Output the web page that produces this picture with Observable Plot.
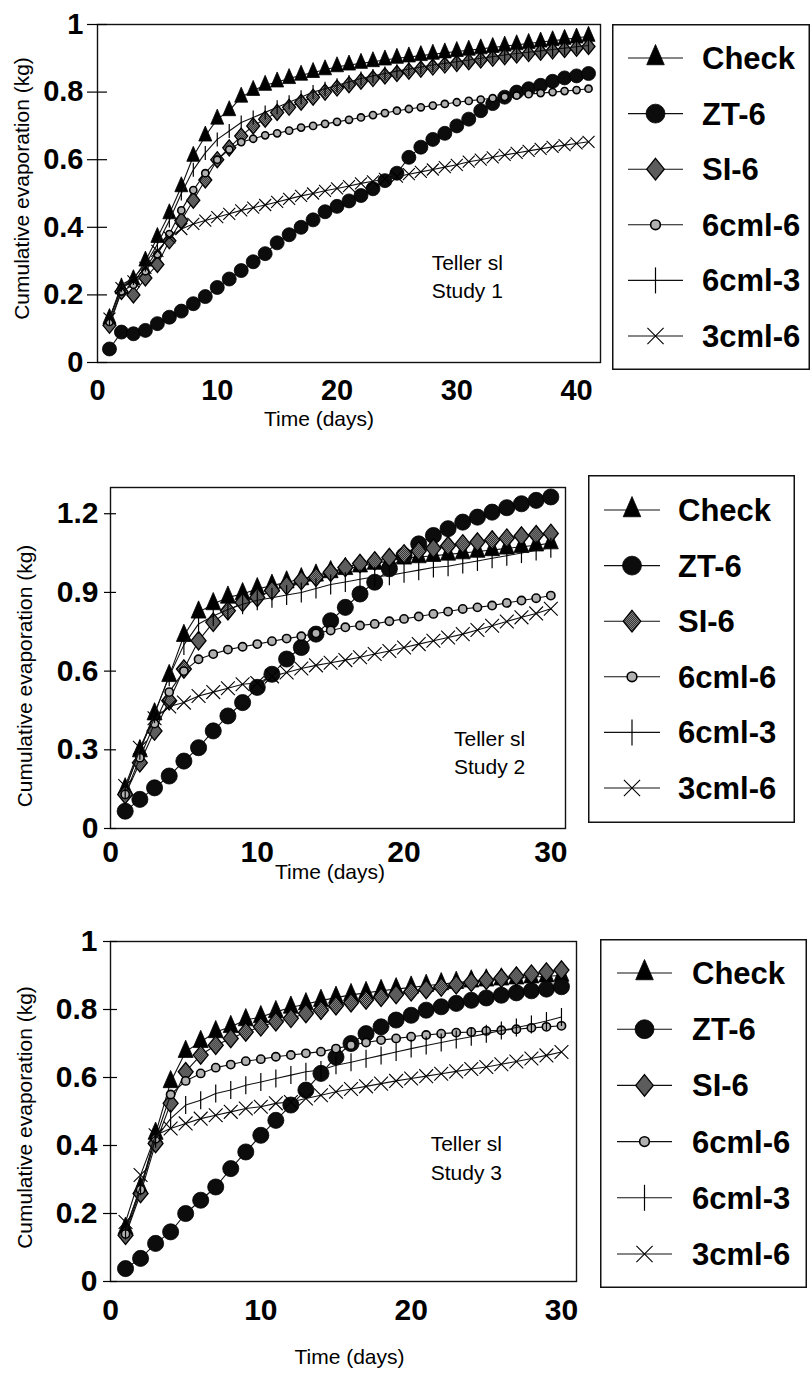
<!DOCTYPE html>
<html><head><meta charset="utf-8">
<script src="https://cdn.jsdelivr.net/npm/d3@7"></script>
<script src="https://cdn.jsdelivr.net/npm/@observablehq/plot@0.6"></script>
<style>
body{margin:0;background:#fff;}
#page{position:relative;width:810px;height:1380px;overflow:hidden;background:#fff;font-family:"Liberation Sans",Arial,sans-serif;}
svg.lg{position:absolute;overflow:visible;}
</style></head>
<body>
<svg width="0" height="0" style="position:absolute">
  <defs>
    <pattern id="hatch" width="2" height="2" patternUnits="userSpaceOnUse">
      <rect width="2" height="2" fill="#9a9a9a"/>
      <rect width="1" height="1" fill="#1e1e1e"/>
      <rect x="1" y="1" width="1" height="1" fill="#1e1e1e"/>
    </pattern>
  </defs>
</svg>
<div id="page"></div>
<script>
// ---------- data ----------
const seriesNames = ["Check", "ZT-6", "SI-6", "6cml-6", "6cml-3", "3cml-6"];

const days1 = [1,2,3,4,5,6,7,8,9,10,11,12,13,14,15,16,17,18,19,20,21,22,23,24,25,26,27,28,29,30,31,32,33,34,35,36,37,38,39,40,41];
const days2 = [1,2,3,4,5,6,7,8,9,10,11,12,13,14,15,16,17,18,19,20,21,22,23,24,25,26,27,28,29,30];
const days3 = [1,2,3,4,5,6,7,8,9,10,11,12,13,14,15,16,17,18,19,20,21,22,23,24,25,26,27,28,29,30];

// Study 1
const s1Check = [0.13,0.22,0.245,0.30,0.37,0.44,0.52,0.61,0.67,0.72,0.745,0.785,0.805,0.82,0.83,0.84,0.85,0.858,0.866,0.875,0.88,0.885,0.89,0.895,0.90,0.904,0.908,0.912,0.916,0.92,0.924,0.928,0.932,0.936,0.94,0.944,0.948,0.952,0.956,0.96,0.965];
const s1ZT6 = [0.04,0.09,0.085,0.095,0.115,0.134,0.152,0.174,0.195,0.222,0.247,0.272,0.298,0.322,0.354,0.378,0.40,0.422,0.446,0.462,0.478,0.494,0.514,0.538,0.56,0.607,0.637,0.66,0.678,0.70,0.72,0.745,0.766,0.785,0.80,0.81,0.82,0.832,0.842,0.848,0.855];
const s1SI6 = [0.11,0.21,0.20,0.25,0.29,0.36,0.42,0.48,0.54,0.60,0.635,0.67,0.70,0.72,0.74,0.755,0.77,0.785,0.80,0.812,0.822,0.832,0.84,0.848,0.855,0.862,0.868,0.874,0.88,0.885,0.89,0.895,0.90,0.905,0.91,0.914,0.918,0.922,0.926,0.93,0.935];
const s1C66 = [0.12,0.21,0.23,0.27,0.32,0.38,0.45,0.51,0.56,0.60,0.63,0.652,0.662,0.672,0.678,0.686,0.695,0.70,0.706,0.712,0.718,0.725,0.732,0.738,0.745,0.75,0.755,0.76,0.765,0.77,0.774,0.778,0.782,0.786,0.79,0.794,0.797,0.80,0.803,0.806,0.81];
const s1C63 = [0.13,0.23,0.25,0.29,0.35,0.42,0.50,0.57,0.62,0.66,0.685,0.71,0.725,0.74,0.755,0.77,0.785,0.80,0.81,0.82,0.83,0.84,0.848,0.855,0.862,0.868,0.874,0.88,0.885,0.89,0.895,0.90,0.905,0.91,0.914,0.918,0.922,0.926,0.93,0.934,0.938];
const s1C36 = [0.13,0.22,0.24,0.28,0.33,0.37,0.395,0.41,0.42,0.43,0.44,0.45,0.458,0.466,0.475,0.484,0.493,0.50,0.508,0.515,0.522,0.53,0.536,0.543,0.55,0.557,0.564,0.571,0.578,0.585,0.594,0.60,0.607,0.614,0.62,0.626,0.632,0.638,0.643,0.648,0.653];

// Study 2
const s2Check = [0.15,0.295,0.436,0.582,0.735,0.824,0.856,0.881,0.894,0.913,0.926,0.939,0.951,0.965,0.978,0.99,1.0,1.01,1.02,1.03,1.035,1.04,1.045,1.05,1.056,1.062,1.068,1.074,1.08,1.088];
const s2ZT6 = [0.066,0.111,0.155,0.20,0.257,0.308,0.372,0.429,0.48,0.538,0.588,0.646,0.69,0.741,0.792,0.843,0.894,0.939,0.99,1.04,1.085,1.117,1.143,1.168,1.187,1.206,1.223,1.238,1.251,1.264];
const s2SI6 = [0.13,0.251,0.372,0.487,0.608,0.716,0.786,0.83,0.862,0.881,0.907,0.926,0.945,0.958,0.977,0.995,1.01,1.02,1.033,1.047,1.058,1.068,1.078,1.085,1.092,1.1,1.107,1.115,1.12,1.125];
const s2C66 = [0.13,0.27,0.40,0.52,0.60,0.645,0.665,0.682,0.693,0.703,0.714,0.724,0.733,0.744,0.755,0.767,0.774,0.78,0.79,0.799,0.808,0.818,0.827,0.837,0.843,0.85,0.86,0.869,0.878,0.888];
const s2C63 = [0.15,0.30,0.44,0.58,0.70,0.78,0.81,0.835,0.855,0.87,0.88,0.89,0.90,0.915,0.93,0.94,0.95,0.96,0.965,0.975,0.985,0.995,1.0,1.01,1.02,1.03,1.04,1.05,1.06,1.07];
const s2C36 = [0.162,0.308,0.42,0.465,0.48,0.505,0.52,0.535,0.55,0.555,0.58,0.595,0.61,0.622,0.632,0.642,0.653,0.665,0.677,0.69,0.703,0.716,0.728,0.741,0.757,0.773,0.789,0.805,0.82,0.838];

// Study 3
const s3Check = [0.156,0.274,0.435,0.587,0.676,0.705,0.734,0.749,0.769,0.778,0.793,0.806,0.816,0.826,0.835,0.843,0.849,0.855,0.86,0.865,0.87,0.875,0.879,0.883,0.886,0.889,0.892,0.895,0.898,0.90];
const s3ZT6 = [0.038,0.068,0.112,0.146,0.20,0.239,0.278,0.332,0.381,0.43,0.474,0.519,0.563,0.612,0.66,0.70,0.729,0.749,0.769,0.783,0.798,0.808,0.818,0.827,0.834,0.842,0.849,0.855,0.86,0.867];
const s3SI6 = [0.136,0.259,0.406,0.524,0.617,0.666,0.695,0.715,0.734,0.749,0.764,0.774,0.788,0.798,0.811,0.82,0.828,0.836,0.844,0.852,0.859,0.866,0.873,0.88,0.886,0.892,0.898,0.904,0.91,0.916];
const s3C66 = [0.14,0.27,0.42,0.55,0.59,0.612,0.629,0.638,0.648,0.654,0.661,0.666,0.671,0.676,0.685,0.695,0.703,0.71,0.715,0.72,0.725,0.729,0.732,0.734,0.737,0.739,0.742,0.746,0.749,0.752];
const s3C63 = [0.15,0.28,0.42,0.479,0.519,0.533,0.553,0.563,0.577,0.587,0.597,0.607,0.617,0.622,0.636,0.645,0.655,0.665,0.675,0.685,0.694,0.703,0.712,0.72,0.729,0.738,0.747,0.756,0.766,0.778];
const s3C36 = [0.175,0.313,0.43,0.45,0.465,0.479,0.489,0.499,0.509,0.514,0.524,0.528,0.538,0.548,0.558,0.566,0.574,0.582,0.59,0.597,0.604,0.611,0.618,0.625,0.631,0.639,0.647,0.656,0.665,0.675];

// axis ticks
const xTicks1 = [0,10,20,30,40];
const xTicks2 = [0,10,20,30];
const xTicks3 = [0,10,20,30];
const yTicks1 = [0,0.2,0.4,0.6,0.8,1];
const yTicks2 = [0,0.3,0.6,0.9,1.2];
const yTicks3 = [0,0.2,0.4,0.6,0.8,1];

// annotations
const note1 = [{day: 27.9, v: 0.26, text: "Teller sl\nStudy 1"}];
const note2 = [{day: 23.4, v: 0.295, text: "Teller sl\nStudy 2"}];
const note3 = [{day: 21.3, v: 0.368, text: "Teller sl\nStudy 3"}];

// ---------- symbols ----------
const symTri = (w, h) => ({draw(c){ c.moveTo(0, -2*h/3); c.lineTo(w, h/3); c.lineTo(-w, h/3); c.closePath(); }});
const symCircle = r => ({draw(c){ c.moveTo(r, 0); c.arc(0, 0, r, 0, 2*Math.PI); c.closePath(); }});
const symDiamond = (w, h) => ({draw(c){ c.moveTo(0, -h); c.lineTo(w, 0); c.lineTo(0, h); c.lineTo(-w, 0); c.closePath(); }});
const symTick = h => ({draw(c){ c.moveTo(0, -h); c.lineTo(0, h); }});
const symX = a => ({draw(c){ c.moveTo(-a, -a); c.lineTo(a, a); c.moveTo(-a, a); c.lineTo(a, -a); }});

function symbolSet(k, tick) {
  return [
    {sym: symTri(6.5*k, 15*k), fill: "#000", stroke: "#000", sw: 0.8},
    {sym: symCircle(7*k), fill: "#0c0c0c", stroke: "#000", sw: 0.8},
    {sym: symDiamond(6.5*k, 8*k), fill: "url(#hatch)", stroke: "#000", sw: 1.3},
    {sym: symCircle(3.6*k), fill: "#b0b0b0", stroke: "#000", sw: 1.6},
    {sym: symTick(tick), fill: "none", stroke: "#000", sw: 1.2},
    {sym: symX(6*k), fill: "none", stroke: "#000", sw: 1.1}
  ];
}

const FONT = "Liberation Sans, Arial, Helvetica, sans-serif";
const page = document.getElementById("page");

function makePanel(p) {
  const syms = symbolSet(p.k, p.tick);
  const marks = [];
  p.values.forEach((vals, i) => {
    const data = p.days.map((d, j) => ({day: d, v: vals[j]}));
    marks.push(Plot.line(data, {x: "day", y: "v", stroke: "#111", strokeWidth: 1.1}));
    const s = syms[i];
    marks.push(Plot.dot(data, {x: "day", y: "v", symbol: s.sym, r: 5, fill: s.fill, stroke: s.stroke, strokeWidth: s.sw}));
  });
  marks.push(Plot.frame({stroke: "#111", strokeWidth: 1.4}));
  marks.push(Plot.axisY({ticks: p.yTicks, tickSize: 0, tickPadding: p.ytp, tickFormat: d3.format("~g"),
    fontSize: p.tickFont, fontWeight: "bold", label: null}));
  marks.push(Plot.axisY({ticks: p.yTicks, tickSize: 2*p.tl, dx: p.tl, tickFormat: () => "", label: null, strokeWidth: 1.2}));
  marks.push(Plot.axisX({ticks: p.xTicks, tickSize: 0, tickPadding: p.xtp, tickFormat: d3.format("d"),
    fontSize: p.tickFont, fontWeight: "bold", label: null}));
  marks.push(Plot.text(["Time (days)"], {frameAnchor: "bottom", textAnchor: "middle", dy: p.xlabDy, dx: p.xlabDx,
    fontSize: 21, text: d => d, fill: "#000"}));
  marks.push(Plot.text(["Cumulative evaporation (kg)"], {frameAnchor: "left", textAnchor: "middle", rotate: -90,
    dx: p.ylabDx, dy: p.ylabDy, fontSize: 21, text: d => d, fill: "#000"}));
  marks.push(Plot.text(p.note, {x: "day", y: "v", text: "text", textAnchor: "start", lineAnchor: "middle",
    lineHeight: 1.35, fontSize: 21, fill: "#000"}));

  const fig = Plot.plot({
    width: 810, height: p.height,
    marginLeft: p.ml, marginRight: p.mr, marginTop: p.mt, marginBottom: p.mb,
    x: {domain: p.xDomain, label: null},
    y: {domain: p.yDomain, label: null},
    style: {fontFamily: FONT, background: "transparent", overflow: "visible", color: "#000"},
    marks
  });
  fig.style.position = "absolute";
  fig.style.left = "0px";
  fig.style.top = p.top + "px";
  page.append(fig);
}

function makeLegend(L, k) {
  const syms = symbolSet(k, 13);
  const svg = d3.select(page).append("svg").attr("class", "lg")
    .attr("width", L.w).attr("height", L.h)
    .style("left", L.left + "px").style("top", L.top + "px");
  svg.append("rect").attr("x", 0.75).attr("y", 0.75).attr("width", L.w - 1.5).attr("height", L.h - 1.5)
    .attr("fill", "#fff").attr("stroke", "#111").attr("stroke-width", 1.5);
  const step = (L.h - 2*L.pad) / (seriesNames.length - 1);
  seriesNames.forEach((name, i) => {
    const cy = L.pad + i*step;
    svg.append("line").attr("x1", L.lx1).attr("x2", L.lx2).attr("y1", cy).attr("y2", cy)
      .attr("stroke", "#111").attr("stroke-width", 1.1);
    const s = syms[i];
    svg.append("path").attr("d", d3.symbol(s.sym)())
      .attr("transform", `translate(${(L.lx1 + L.lx2)/2},${cy})`)
      .attr("fill", s.fill).attr("stroke", s.stroke).attr("stroke-width", s.sw);
    svg.append("text").attr("x", L.tx).attr("y", cy + 11).text(name)
      .attr("font-family", FONT).attr("font-weight", "bold").attr("font-size", 31).attr("fill", "#000");
  });
}

// ---------- panels ----------
makePanel({top: 0, height: 440, ml: 97, mr: 210, mt: 24, mb: 78, k: 1, tick: 7,
  days: days1, values: [s1Check, s1ZT6, s1SI6, s1C66, s1C63, s1C36],
  xDomain: [0, 42], yDomain: [0, 1], xTicks: xTicks1, yTicks: yTicks1,
  tickFont: 29, ytp: 14, xtp: 17, tl: 10, xlabDy: 63, xlabDx: -30, ylabDx: -75, ylabDy: -5, note: note1});

makePanel({top: 460, height: 440, ml: 110, mr: 245, mt: 27, mb: 72, k: 1.15, tick: 10,
  days: days2, values: [s2Check, s2ZT6, s2SI6, s2C66, s2C63, s2C36],
  xDomain: [0, 31], yDomain: [0, 1.3], xTicks: xTicks2, yTicks: yTicks2,
  tickFont: 30, ytp: 12, xtp: 12, tl: 6, xlabDy: 50, xlabDx: -8, ylabDx: -85, ylabDy: 18, note: note2});

makePanel({top: 910, height: 470, ml: 110, mr: 234, mt: 31, mb: 99, k: 1.15, tick: 9,
  days: days3, values: [s3Check, s3ZT6, s3SI6, s3C66, s3C63, s3C36],
  xDomain: [0, 31], yDomain: [0, 1], xTicks: xTicks3, yTicks: yTicks3,
  tickFont: 30, ytp: 13, xtp: 17, tl: 7, xlabDy: 82, xlabDx: 6, ylabDx: -85, ylabDy: 6, note: note3});

// ---------- legends ----------
makeLegend({left: 612, top: 24, w: 198, h: 346, pad: 34, lx1: 16, lx2: 71, tx: 90}, 1.35);
makeLegend({left: 588, top: 475, w: 207, h: 348, pad: 35, lx1: 16, lx2: 72, tx: 90}, 1.35);
makeLegend({left: 600, top: 939, w: 207, h: 349, pad: 34, lx1: 17, lx2: 72, tx: 92}, 1.35);
</script>
</body></html>
